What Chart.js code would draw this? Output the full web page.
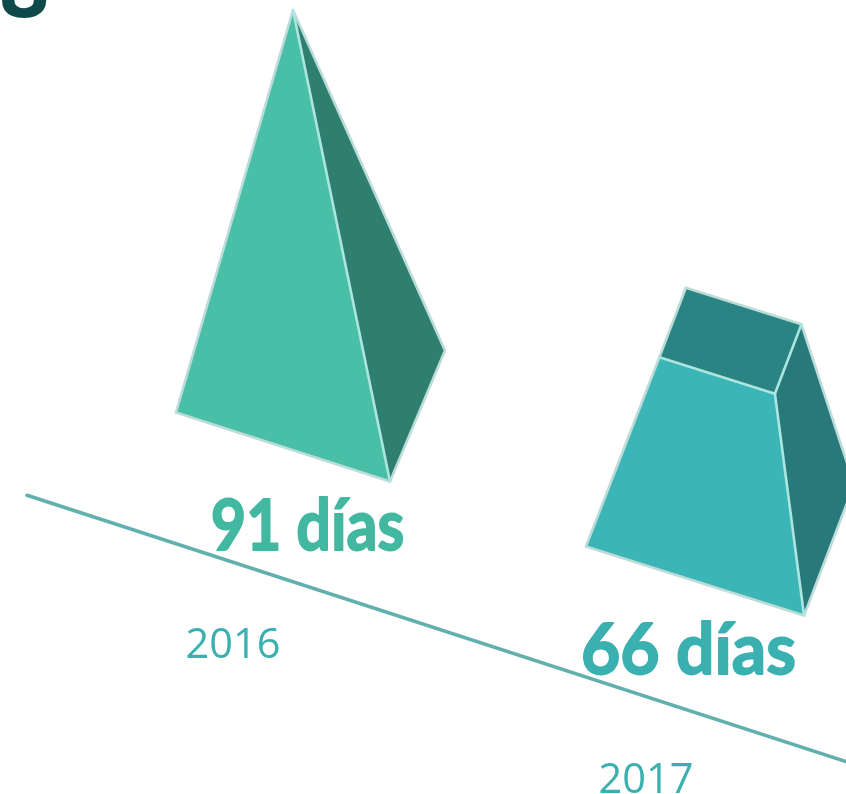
<!DOCTYPE html>
<html>
<head>
<meta charset="utf-8">
<style>html,body{margin:0;padding:0;background:#fff;overflow:hidden}canvas{display:block}</style>
<script src="https://cdn.jsdelivr.net/npm/chart.js@4"></script>
</head>
<body>
<canvas id="c" width="846" height="794"></canvas>
<script>
const categories = ['2016', '2017'];
const days = [91, 66];
const unit = 'días';

const axisMin = 43.8, axisMax = 91;
const tilt = 134 / 412;
const faceColors = [
  {front:'#4abfa8', side:'#2f7f70', top:'#2f7f70', text:'#42b8a0'},
  {front:'#3bb5b5', side:'#27797a', top:'#2b8484', text:'#3bb0b0'}
];
const labelOffset = [[24.5, 103], [-6.5, 92.5]];
const labelSqueeze = [0.86, 0.955];
const yearOffset = [[-50, 210.5], [-49, 211.5]];

function poly(ctx, pts, fill, stroke, w) {
  ctx.beginPath();
  pts.forEach((p, i) => i ? ctx.lineTo(p[0], p[1]) : ctx.moveTo(p[0], p[1]));
  ctx.closePath();
  if (fill) { ctx.fillStyle = fill; ctx.fill(); }
  if (stroke) { ctx.strokeStyle = stroke; ctx.lineWidth = w; ctx.stroke(); }
}
function seg(ctx, a, b, color, w) {
  ctx.beginPath(); ctx.moveTo(a[0], a[1]); ctx.lineTo(b[0], b[1]);
  ctx.strokeStyle = color; ctx.lineWidth = w; ctx.stroke();
}
const lerp = (a, b, t) => [a[0] + (b[0] - a[0]) * t, a[1] + (b[1] - a[1]) * t];

const solids = {
  id: 'solids',
  afterDatasetsDraw(chart) {
    const ctx = chart.ctx, area = chart.chartArea;
    const fullH = area.bottom - area.top;
    ctx.save();
    ctx.lineJoin = 'round'; ctx.lineCap = 'round';

    // clipped dark glyph at the top-left corner
    ctx.fillStyle = '#0f4a4a';
    ctx.font = 'bold 88px "Open Sans"';
    ctx.textAlign = 'left'; ctx.textBaseline = 'alphabetic';
    ctx.fillText('8', -1, 17);

    // tilted baseline
    const xl = area.left - 256, xr = 846;
    seg(ctx, [xl, area.bottom + 131.5 + (xl - area.left) * tilt],
             [xr, area.bottom + 131.5 + (xr - area.left) * tilt], '#62b0ae', 3.6);

    chart.getDatasetMeta(0).data.forEach((bar, i) => {
      const c = faceColors[i];
      const bx = bar.x;
      const by = bar.base + (bx - area.left) * tilt;
      const t = (bar.base - bar.y) / fullH;
      const along = bx - area.left;
      const half = [107 + along * 0.005, 34.5], depth = [55 - along * 0.012, -131];
      const lean = 10 + along * 0.09;
      const fl = [bx - half[0], by - half[1]];
      const fr = [bx + half[0], by + half[1]];
      const bl = [fl[0] + depth[0], fl[1] + depth[1]];
      const br = [fr[0] + depth[0], fr[1] + depth[1]];
      const apex = [bx + lean, by - fullH];
      const tfl = lerp(fl, apex, t), tfr = lerp(fr, apex, t);
      const tbl = lerp(bl, apex, t), tbr = lerp(br, apex, t);
      const edge = '#bcdcd9', inner = '#ace6e1';

      poly(ctx, [fr, br, tbr, tfr], c.side);
      if (t < 0.999) poly(ctx, [tfl, tfr, tbr, tbl], c.top);
      poly(ctx, [fl, fr, tfr, tfl], c.front);

      const outline = t < 0.999 ? [fl, fr, br, tbr, tbl, tfl] : [fl, fr, br, apex];
      poly(ctx, outline, null, edge, 2.6);
      seg(ctx, fr, tfr, inner, 2.6);
      if (t < 0.999) {
        seg(ctx, tfl, tfr, inner, 2.6);
        seg(ctx, tfr, tbr, inner, 2.6);
      }

      // value label, squeezed to the condensed width of the original lettering
      ctx.save();
      ctx.translate(bx + labelOffset[i][0], by + labelOffset[i][1]);
      ctx.scale(labelSqueeze[i], 1);
      ctx.fillStyle = c.text;
      ctx.strokeStyle = c.text;
      ctx.lineWidth = 1.8;
      ctx.textAlign = 'center';
      ctx.font = 'bold 71px Lato';
      const label = days[i] + ' ' + unit;
      ctx.fillText(label, 0, 0);
      ctx.strokeText(label, 0, 0);
      ctx.restore();

      ctx.fillStyle = '#3bb0b0';
      ctx.textAlign = 'center';
      ctx.font = '41.5px "Open Sans"';
      ctx.fillText(categories[i], bx + yearOffset[i][0], by + yearOffset[i][1]);
    });
    ctx.restore();
  }
};

new Chart(document.getElementById('c'), {
  type: 'bar',
  data: {
    labels: categories,
    datasets: [{ data: days, base: axisMin, backgroundColor: 'rgba(0,0,0,0)', borderWidth: 0 }]
  },
  options: {
    responsive: false,
    animation: false,
    layout: { padding: { left: 283, right: 151, top: 10, bottom: 347 } },
    plugins: { legend: { display: false }, tooltip: { enabled: false }, title: { display: false } },
    scales: {
      x: { type: 'category', offset: false, display: false },
      y: { min: axisMin, max: axisMax, display: false }
    }
  },
  plugins: [solids]
});
</script>
</body>
</html>
